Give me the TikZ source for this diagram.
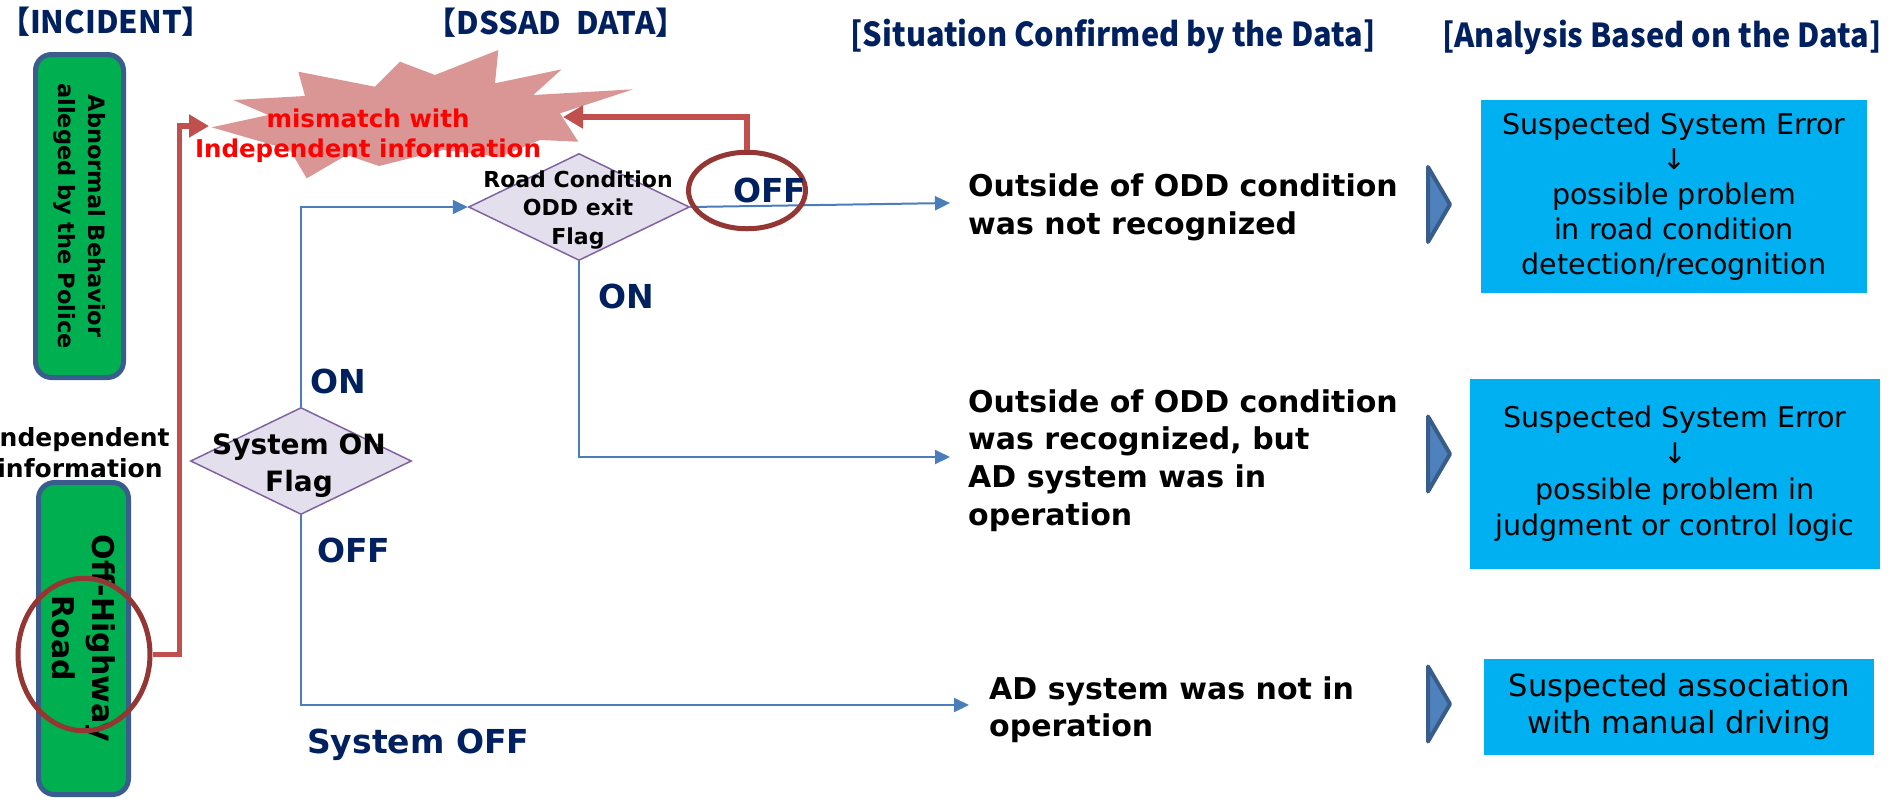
\documentclass[tikz,border=0pt]{standalone}
\usepackage{fontspec}
\setmainfont{DejaVu Sans}
\newfontfamily\hdfont{Noto Sans CJK JP}
\newfontfamily\hdcfont{Noto Sans CJK JP}[FakeStretch=0.93]
\usetikzlibrary{shapes.geometric,arrows.meta}

\definecolor{navy}{HTML}{002060}
\definecolor{alerttext}{HTML}{FF0000}
\definecolor{burstfill}{HTML}{D99694}
\definecolor{alertred}{HTML}{C0504D}
\definecolor{ringred}{HTML}{943634}
\definecolor{greenfill}{HTML}{00B050}
\definecolor{gborder}{HTML}{3B5D8E}
\definecolor{lav}{HTML}{E4DFEC}
\definecolor{purp}{HTML}{8064A2}
\definecolor{flowblue}{HTML}{4A7EBB}
\definecolor{ptrfill}{HTML}{4F81BD}
\definecolor{ptrdraw}{HTML}{385D8A}
\definecolor{cyanbox}{HTML}{00B0F0}

\newcommand\setfs[2]{\fontsize{#1}{#2}\selectfont}

\tikzset{
  title/.style={font=\hdfont\bfseries\setfs{31}{40}, text=navy, inner sep=0pt, anchor=base},
  ctitle/.style={font=\hdcfont\bfseries\setfs{33}{40}, text=navy, inner sep=0pt, anchor=base},
  gbox/.style={draw=gborder, line width=5pt, fill=greenfill, rounded corners=16pt,
    inner sep=0pt, align=center},
  flag/.style={diamond, draw=purp, fill=lav, line width=1.5pt,
    minimum width=221pt, minimum height=107pt, inner sep=0pt},
  flagtext/.style={align=center, inner sep=0pt},
  branch/.style={font=\bfseries\setfs{33}{38}, text=navy, inner sep=0pt, anchor=base west},
  situ/.style={align=left, inner sep=0pt, anchor=north west},
  result/.style={fill=cyanbox, inner sep=0pt, align=center},
  flow/.style={draw=flowblue, line width=2pt, -{Triangle[length=15pt, width=14pt]}},
  alert/.style={draw=alertred, line width=5.5pt, -{Triangle[length=20pt, width=22pt]}},
  ring/.style={ellipse, draw=ringred, line width=5pt, inner sep=0pt},
  pointer/.style={fill=ptrfill, draw=ptrdraw, line width=4pt, line join=round},
}

\begin{document}
\begin{tikzpicture}[x=1pt, y=-1pt]
\useasboundingbox (0,0) rectangle (1893,801);

% column headings
\node[title] (hInc) at (106,33) {【INCIDENT】};
\node[title] (hDss) at (556,34) {【DSSAD\hspace{0.5em}DATA】};
\node[ctitle] (hSit) at (1113,46) {[Situation Confirmed by the Data]};
\node[ctitle] (hAna) at (1662,47) {[Analysis Based on the Data]};

% mismatch starburst
\fill[burstfill] (211.7,127.3) -- (268.3,115) -- (233.3,100) -- (305,96) -- (298.3,71.7)
  -- (375,86.7) -- (400,61.7) -- (435,75) -- (498.3,50) -- (495,83.3) -- (561.7,69.3)
  -- (533.3,95) -- (633.3,89.3) -- (560,113.3) -- (578.3,141.7) -- (540,140) -- (500,157)
  -- (443.3,150) -- (379,166) -- (346.7,155) -- (306.7,178.3) -- (290,150) -- cycle;
\coordinate (burstL) at (209,126);
\coordinate (burstR) at (563,117);
\node[align=center, inner sep=0pt, text=alerttext, font=\bfseries\setfs{24.5}{30.5}]
  (mismatch) at (368,135.5) {mismatch with\\Independent information};

% incident boxes
\node[gbox, rotate=-90, minimum width=323pt, minimum height=88pt,
  font=\bfseries\setfs{22.5}{30}] (police) at (79.5,216) {Abnormal Behavior\\alleged by the Police};
\node[align=center, inner sep=0pt, font=\bfseries\setfs{25}{31}] (indep) at (80,453)
  {Independent\\information};
\node[gbox, rotate=-90, minimum width=312pt, minimum height=90pt,
  font=\bfseries\setfs{30}{40}] (offhw) at (83.5,638.5) {Off-Highway\\Road};

% decision flags
\node[flag] (sys) at (301,461) {};
\node[flag] (road) at (579,207) {};

% arrow end points in front of the situation texts
\coordinate (t1) at (950,203);
\coordinate (t2) at (950,457);
\coordinate (t3) at (969,705);

% flow connectors
\draw[flow] (sys.north) |- (road.west);
\draw[flow] (road.east) -- (t1);
\draw[flow] (road.south) |- (t2);
\draw[flow] (sys.south) |- (t3);

% flag captions
\node[flagtext, font=\bfseries\setfs{28}{37}] (sysText) at (299,466) {System ON\\Flag};
\node[flagtext, font=\bfseries\setfs{22}{28.5}] (roadText) at (578,210) {Road Condition\\ODD exit\\Flag};

% highlighted items and mismatch arrows
\node[ring, minimum width=132pt, minimum height=152.5pt] (e1) at (84,654.5) {};
\node[ring, minimum width=117pt, minimum height=76.5pt] (e2) at (747,190.5) {};
\draw[alert] (e1.east) -- ++(27,0) |- (burstL);
\draw[alert] (e2.north) |- (burstR);

% branch labels
\node[branch] (lRoadOn) at (598,308) {ON};
\node[branch] (lRoadOff) at (733,202) {OFF};
\node[branch] (lSysOn) at (310,393) {ON};
\node[branch] (lSysOff) at (317,562) {OFF};
\node[branch] (lSysOffB) at (307,753) {System OFF};

% situations
\node[situ, font=\bfseries\setfs{30}{38}] (sit1) at (968,174)
  {Outside of ODD condition\\was not recognized};
\node[situ, font=\bfseries\setfs{30}{37.7}] (sit2) at (968,389)
  {Outside of ODD condition\\was recognized, but\\AD system was in\\operation};
\node[situ, font=\bfseries\setfs{30}{37}] (sit3) at (989,676)
  {AD system was not in\\operation};

% pointers
\draw[pointer] (1428,167) -- (1450,204.5) -- (1428,242) -- cycle;
\draw[pointer] (1428,416.5) -- (1450,454) -- (1428,491.5) -- cycle;
\draw[pointer] (1428,666.5) -- (1450,704) -- (1428,741.5) -- cycle;

% analysis results
\node[result, minimum width=386pt, minimum height=193pt, font=\setfs{28.5}{35}] (ana1)
  at (1674,196.5) {Suspected System Error\\↓\\possible problem\\in road condition\\detection/recognition};
\node[result, minimum width=410pt, minimum height=190pt, font=\setfs{28.5}{36}] (ana2)
  at (1675,474) {Suspected System Error\\↓\\possible problem in\\judgment or control logic};
\node[result, minimum width=390pt, minimum height=96pt, font=\setfs{30.5}{37}] (ana3)
  at (1679,707) {Suspected association\\with manual driving};
\end{tikzpicture}
\end{document}
